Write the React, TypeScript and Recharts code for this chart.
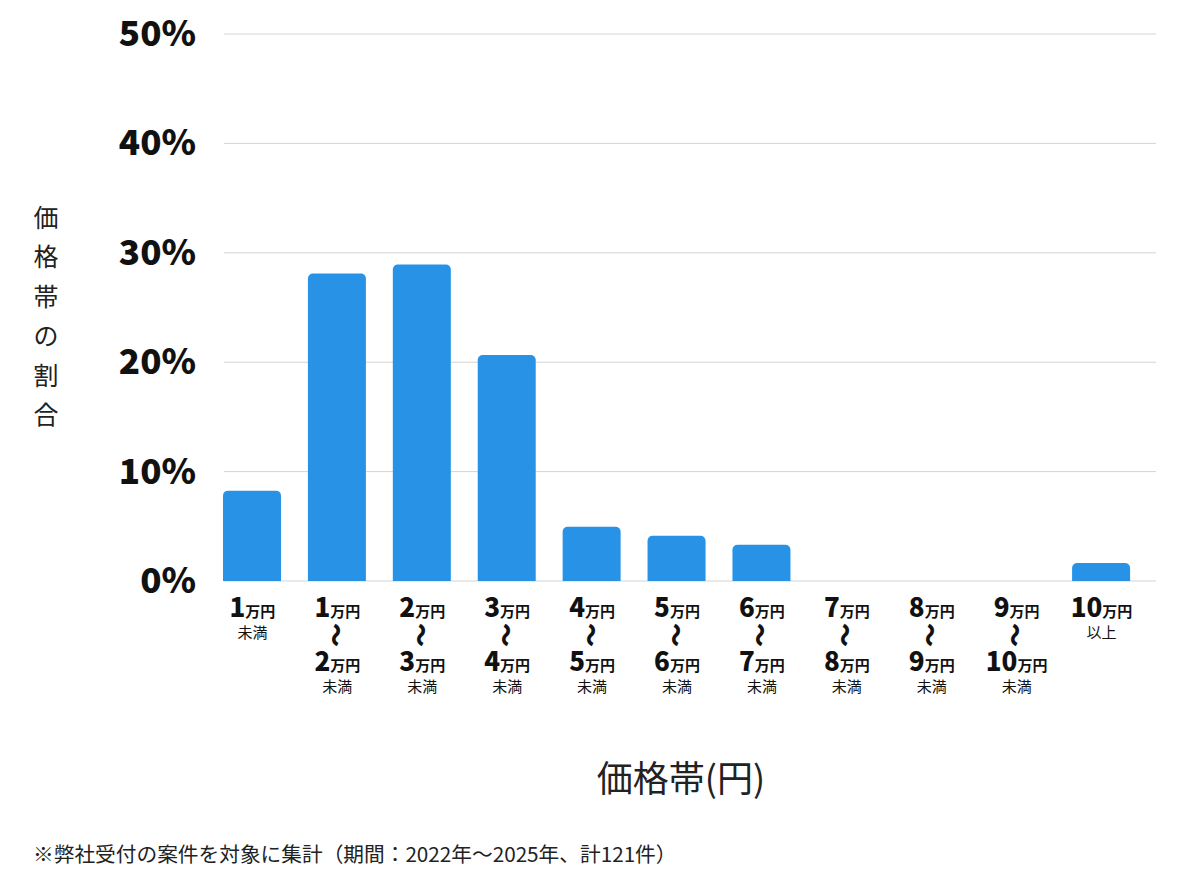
import { Bar, BarChart, CartesianGrid, XAxis, YAxis } from 'recharts';

// 価格帯ごとの件数割合（計121件）
const fromMan = [null, 1, 2, 3, 4, 5, 6, 7, 8, 9, 10];
const toMan = [1, 2, 3, 4, 5, 6, 7, 8, 9, 10, null];
const shares = [8.26, 28.1, 28.93, 20.66, 4.96, 4.13, 3.31, 0, 0, 0, 1.65];
const yTicks = [0, 10, 20, 30, 40, 50];
const yLabelChars = ['価', '格', '帯', 'の', '割', '合'];

const FONT = '"Noto Sans CJK JP", "Noto Sans", sans-serif';
const BAR_COLOR = '#2893e6';

const data = shares.map((share, i) => ({
  key: i,
  from: fromMan[i],
  to: toMan[i],
  share,
}));

function AmountLine({ x, y, value }: { x: number; y: number; value: number }) {
  return (
    <text x={x} y={y} textAnchor="middle" fontFamily={FONT} fontWeight={900} fill="#111">
      <tspan fontSize={26}>{value}</tspan>
      <tspan fontSize={15} fontWeight={700}>万円</tspan>
    </text>
  );
}

function XTick(props: any) {
  const { x, y, payload } = props;
  const row = data[payload.value];
  const top = y + 28;
  if (row.from === null || row.to === null) {
    const amount = row.from === null ? row.to : row.from;
    return (
      <g>
        <AmountLine x={x} y={top} value={amount} />
        <text x={x} y={top + 21} textAnchor="middle" fontFamily={FONT} fontSize={15} fill="#111">
          {row.from === null ? '未満' : '以上'}
        </text>
      </g>
    );
  }
  return (
    <g>
      <AmountLine x={x} y={top} value={row.from} />
      <text
        x={0}
        y={0}
        transform={`translate(${x}, ${top + 18}) rotate(90)`}
        textAnchor="middle"
        dominantBaseline="central"
        fontFamily={FONT}
        fontWeight={900}
        fontSize={24}
        fill="#111"
      >
        〜
      </text>
      <AmountLine x={x} y={top + 54} value={row.to} />
      <text x={x} y={top + 75} textAnchor="middle" fontFamily={FONT} fontSize={15} fill="#111">
        未満
      </text>
    </g>
  );
}

function YTick(props: any) {
  const { x, y, payload } = props;
  return (
    <text x={x} y={y} dy={12} textAnchor="end" fontFamily={FONT} fontWeight={900} fontSize={35} fill="#111">
      {payload.value}%
    </text>
  );
}

function YLabel() {
  return (
    <g>
      {yLabelChars.map((c, i) => (
        <text
          key={c}
          x={46}
          y={216 + i * 39.4}
          textAnchor="middle"
          dominantBaseline="central"
          fontFamily={FONT}
          fontSize={25}
          fill="#222"
        >
          {c}
        </text>
      ))}
    </g>
  );
}

function XLabel(props: any) {
  const { viewBox } = props;
  return (
    <text
      x={viewBox.x + viewBox.width / 2 + 4}
      y={viewBox.y + 195}
      textAnchor="middle"
      dominantBaseline="central"
      fontFamily={FONT}
      fontSize={36}
      fill="#222"
    >
      価格帯(円)
    </text>
  );
}

export default function App() {
  return (
    <div style={{ position: 'absolute', left: 0, top: 0, width: 1200, height: 874, background: '#fff' }}>
      <BarChart
        width={1200}
        height={874}
        data={data}
        margin={{ top: 34, right: 56, left: 110, bottom: 173 }}
      >
        <CartesianGrid x={224} width={932} vertical={false} stroke="#d4d4d4" />
        <XAxis
          dataKey="key"
          axisLine={false}
          tickLine={false}
          interval={0}
          height={120}
          tick={<XTick />}
          label={<XLabel />}
        />
        <YAxis
          domain={[0, 50]}
          ticks={yTicks}
          width={100}
          axisLine={false}
          tickLine={false}
          tickSize={0}
          tickMargin={14}
          tick={<YTick />}
          label={<YLabel />}
        />
        <Bar dataKey="share" fill={BAR_COLOR} barSize={58} radius={[5, 5, 0, 0]} isAnimationActive={false} />
      </BarChart>
      <div
        style={{
          position: 'absolute',
          left: 33,
          top: 838,
          fontFamily: FONT,
          fontSize: 20.7,
          color: '#222',
          whiteSpace: 'nowrap',
        }}
      >
        ※弊社受付の案件を対象に集計（期間：2022年〜2025年、計121件）
      </div>
    </div>
  );
}
